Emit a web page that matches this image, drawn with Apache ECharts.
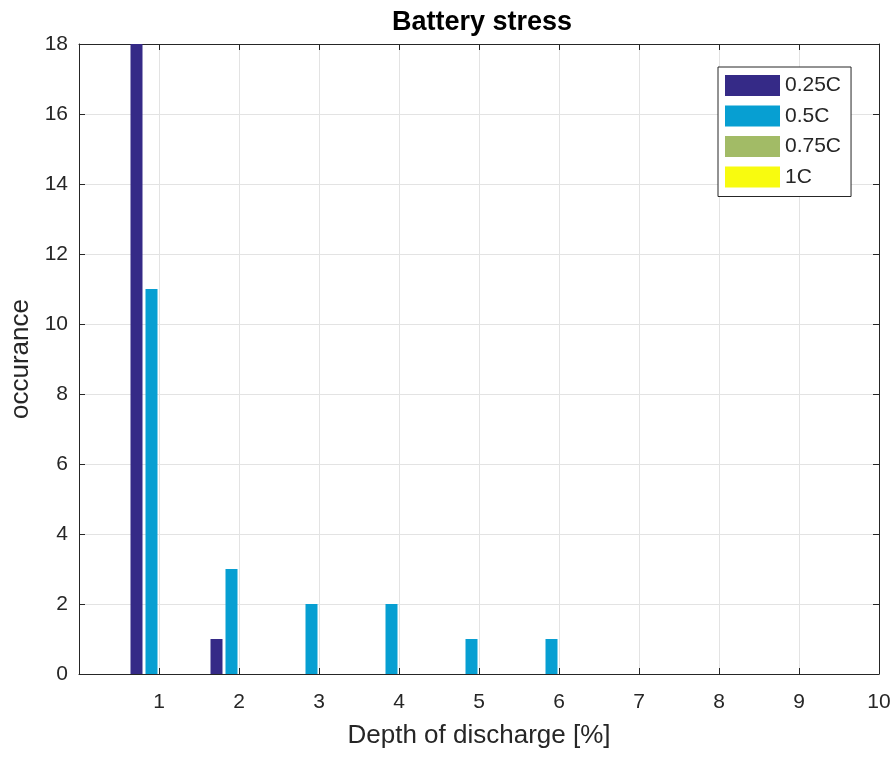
<!DOCTYPE html>
<html>
<head>
<meta charset="UTF-8">
<title>Battery stress</title>
<script src="https://cdn.jsdelivr.net/npm/echarts@6/dist/echarts.min.js"></script>
<style>
  html, body { margin: 0; padding: 0; background: #fff; }
  #main { width: 893px; height: 758px; }
</style>
</head>
<body>
<div id="main"></div>
<script>
  // depth of discharge bins
  const dod = [1, 2, 3, 4, 5, 6, 7, 8, 9, 10];
  // occurrences per C-rate
  const c025 = [18, 1, 0, 0, 0, 0, 0, 0, 0, 0];
  const c05  = [11, 3, 2, 2, 1, 1, 0, 0, 0, 0];
  const c075 = [0, 0, 0, 0, 0, 0, 0, 0, 0, 0];
  const c1   = [0, 0, 0, 0, 0, 0, 0, 0, 0, 0];
  const seriesNames = ['0.25C', '0.5C', '0.75C', '1C'];
  const seriesColors = ['#352a87', '#079fd2', '#a2bb66', '#f8fb0f'];

  const chart = echarts.init(document.getElementById('main'));
  const font = 'Liberation Sans, Arial, Helvetica, sans-serif';
  const ink = '#262626';

  function pairs(vals) {
    return dod.map((x, i) => [x, vals[i]]);
  }

  const allVals = [c025, c05, c075, c1];

  // box axes (top / right) like matlab "box on"
  const boxAxis = {
    axisLine: { show: true, onZero: false, lineStyle: { color: ink, width: 1 } },
    axisTick: { show: true, inside: true, length: 6, lineStyle: { color: ink } },
    axisLabel: { show: false },
    splitLine: { show: false }
  };

  const option = {
    backgroundColor: '#fff',
    animation: false,
    title: {
      text: 'Battery stress',
      left: 477,
      textAlign: 'center',
      top: 4,
      textStyle: { fontFamily: font, fontSize: 27, fontWeight: 'bold', color: '#000' }
    },
    legend: {
      orient: 'vertical',
      left: 718,
      top: 67,
      icon: 'rect',
      itemWidth: 55,
      itemHeight: 21,
      itemGap: 9.5,
      padding: [8, 10, 9, 7],
      borderColor: ink,
      borderWidth: 1,
      backgroundColor: '#fff',
      textStyle: { fontFamily: font, fontSize: 21, color: ink },
      data: seriesNames
    },
    grid: { left: 79, right: 14, top: 44, bottom: 84, containLabel: false, outerBoundsMode: 'none' },
    xAxis: [{
      type: 'value',
      min: 0, max: 10, interval: 1,
      name: 'Depth of discharge [%]',
      nameLocation: 'middle',
      nameGap: 49,
      nameTextStyle: { fontFamily: font, fontSize: 26, color: ink },
      axisLine: { show: true, onZero: false, lineStyle: { color: ink, width: 1 } },
      axisTick: { show: true, inside: true, length: 6, lineStyle: { color: ink } },
      axisLabel: {
        fontFamily: font, fontSize: 21, color: ink, margin: 18,
        formatter: v => (v === 0 ? '' : String(v))
      },
      splitLine: { show: true, lineStyle: { color: '#e3e3e3', width: 1 } }
    }, Object.assign({
      type: 'value',
      position: 'top',
      min: 0, max: 10, interval: 1
    }, boxAxis)],
    yAxis: [{
      type: 'value',
      min: 0, max: 18, interval: 2,
      name: 'occurance',
      nameLocation: 'middle',
      nameGap: 45,
      nameTextStyle: { fontFamily: font, fontSize: 26, color: ink },
      axisLine: { show: true, onZero: false, lineStyle: { color: ink, width: 1 } },
      axisTick: { show: true, inside: true, length: 6, lineStyle: { color: ink } },
      axisLabel: { fontFamily: font, fontSize: 21, color: ink, margin: 11 },
      splitLine: { show: true, lineStyle: { color: '#e3e3e3', width: 1 } }
    }, Object.assign({
      type: 'value',
      position: 'right',
      min: 0, max: 18, interval: 2
    }, boxAxis)],
    series: seriesNames.map((name, i) => ({
      name: name,
      type: 'bar',
      xAxisIndex: 0,
      yAxisIndex: 0,
      barWidth: 12,
      barGap: '25%',
      itemStyle: { color: seriesColors[i] },
      data: pairs(allVals[i])
    }))
  };

  chart.setOption(option);
</script>
</body>
</html>
